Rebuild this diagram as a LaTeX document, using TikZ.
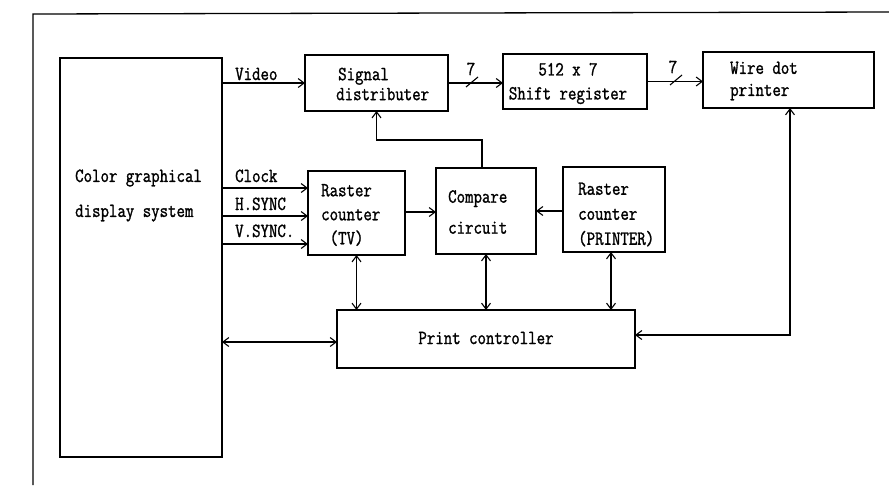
\documentclass[tikz,border=0pt]{standalone}
\usepackage{fontspec}
\newfontfamily\tw{Latin Modern Mono}[FakeStretch=0.82,FakeBold=1.3]
\usetikzlibrary{arrows.meta}
\begin{document}
\begin{tikzpicture}[x=1pt,y=-1pt,
  box/.style={draw, line width=1.1pt, inner sep=0pt, outer sep=0pt},
  txt/.style={font=\tw\fontsize{20}{24}\selectfont, inner sep=0pt, align=left},
  arr/.style={-{Straight Barb[length=6pt,width=9pt]}, line width=1.1pt},
  barr/.style={{Straight Barb[length=6pt,width=9pt]}-{Straight Barb[length=6pt,width=9pt]}, line width=1.1pt},
  tick/.style={line width=1.1pt}]
\useasboundingbox (0,0) rectangle (889,485);
% frame
\draw[line width=1.3pt] (33,485) -- (33,14) -- (889,12);
% boxes
\node[box, minimum width=162pt, minimum height=399pt] (disp) at (141,257.5) {};
\node[box, minimum width=143pt, minimum height=56pt] (sig) at (376.5,83) {};
\node[box, minimum width=144pt, minimum height=55pt] (shift) at (575,81.5) {};
\node[box, minimum width=171pt, minimum height=56pt] (printer) at (788.5,80) {};
\node[box, minimum width=97pt, minimum height=84pt] (rtv) at (356.5,213) {};
\node[box, minimum width=100pt, minimum height=86pt] (cmp) at (486,211) {};
\node[box, minimum width=102pt, minimum height=85pt] (rpr) at (614,209.5) {};
\node[box, minimum width=298pt, minimum height=58pt] (pc) at (486,339) {};
% box texts
\node[txt, anchor=west, font=\tw\fontsize{20}{35}\selectfont] (dispT) at ([xshift=15pt,yshift=62pt]disp.west) {Color graphical\\display system};
\node[txt, anchor=west, font=\tw\fontsize{20}{20}\selectfont] (sigT) at ([xshift=31pt,yshift=-1pt]sig.west) {\hspace*{2pt}Signal\\distributer};
\node[txt, align=center, font=\tw\fontsize{20}{24}\selectfont] (shiftT) at ([xshift=-7pt,yshift=-2pt]shift.center) {512 x 7\\Shift register};
\node[txt, anchor=west, font=\tw\fontsize{20}{22}\selectfont] (printerT) at ([xshift=27pt,yshift=-1pt]printer.west) {Wire dot\\printer};
\node[txt, anchor=west, font=\tw\fontsize{20}{24}\selectfont] (rtvT) at ([xshift=13pt,yshift=-2pt]rtv.west) {Raster\\counter\\\hspace*{8.5pt}(TV)};
\node[txt, anchor=west, font=\tw\fontsize{20}{31}\selectfont] (cmpT) at ([xshift=12pt,yshift=-1pt]cmp.west) {Compare\\circuit};
\node[txt, anchor=west, font=\tw\fontsize{20}{25}\selectfont] (rprT) at ([xshift=15pt,yshift=-5pt]rpr.west) {Raster\\counter\\(PRINTER)};
\node[txt] (pcT) at ([yshift=1pt]pc.center) {Print controller};
% signal lines from display system
\coordinate (yClk) at (0,188);
\coordinate (yH) at (0,216);
\coordinate (yV) at (0,244);
\draw[arr] (disp.east |- sig.west) -- (sig.west);
\draw[arr] (disp.east |- yClk) -- (rtv.west |- yClk);
\draw[arr] (disp.east |- yH) -- (rtv.west |- yH);
\draw[arr] (disp.east |- yV) -- (rtv.west |- yV);
\node[txt, anchor=base west] (lvid) at (235,80) {Video};
\node[txt, anchor=base west] (lclk) at (235,182) {Clock};
\node[txt, anchor=base west] (lh) at (235,210) {H.SYNC};
\node[txt, anchor=base west] (lv) at (235,237) {V.SYNC.};
% data path
\draw[arr] (sig.east) -- (shift.west |- sig.east);
\coordinate (s1) at (472,82);
\draw[tick] (s1) +(-6,5) -- +(6,-5);
\node[txt] (n1) at (471,69) {7};
\draw[arr] (shift.east) -- (printer.west |- shift.east);
\coordinate (s2) at (676,80);
\draw[tick] (s2) +(-6,5) -- +(6,-5);
\node[txt] (n2) at (673,67) {7};
% counters to compare
\draw[arr] (rtv.east |- 0,212) -- (cmp.west |- 0,212);
\draw[arr] (rpr.west |- 0,211) -- (cmp.east |- 0,211);
% compare to signal distributer
\coordinate (yb) at (0,140);
\draw[arr] ([xshift=-4pt]cmp.north) -- ([xshift=-4pt]cmp.north |- yb) -| (sig.south);
% to print controller
\draw[barr] (rtv.south) -- (rtv.south |- pc.north);
\draw[barr] (cmp.south) -- (cmp.south |- pc.north);
\draw[barr] ([xshift=-3pt]rpr.south) -- ([xshift=-3pt]rpr.south |- pc.north);
\draw[barr] (disp.east |- 0,342) -- (pc.west |- 0,342);
\coordinate (yp) at (0,335);
\draw[barr] ([xshift=1.5pt]printer.south) -- ([xshift=1.5pt]printer.south |- yp) -- (pc.east |- yp);
\end{tikzpicture}
\end{document}
